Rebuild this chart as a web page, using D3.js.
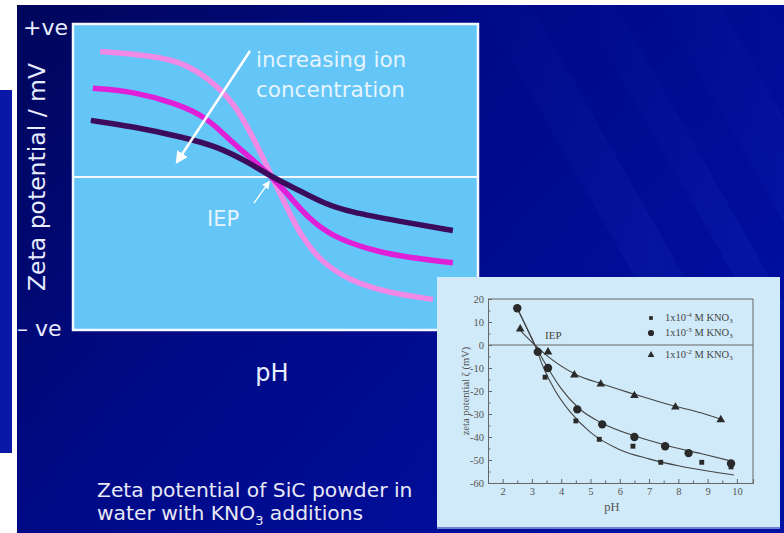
<!DOCTYPE html>
<html>
<head>
<meta charset="utf-8">
<script src="https://cdn.jsdelivr.net/npm/d3@7"></script>
<style>
body{margin:0;background:#fff;overflow:hidden;}
</style>
</head>
<body>
<div id="chart"></div>
<script>
// schematic curves, notional pH (0-10) vs zeta (-100..+100, +ve / -ve)
const lowConcX=[0.67,2.57,3.31,3.95,4.49,4.91,5.36,5.6,6.1,6.84,7.83,8.89];
const lowConcY=[82,78,65,50,24,0,-24,-37,-55,-68,-76,-80];
const midConcX=[0.49,1.48,2.57,3.31,3.95,4.54,4.91,5.36,5.85,6.42,7.26,8.07,9.38];
const midConcY=[58,56,48,39,22,9,0,-13,-28,-39,-47,-52,-56];
const highConcX=[0.44,1.48,2.72,3.56,4.37,4.91,5.6,6.17,6.84,8.07,9.38];
const highConcY=[37,33,26,20,9,0,-9,-17,-23,-29,-35];

// inset: measured zeta potential of SiC in KNO3
const legendLabels=["1x10","1x10","1x10"];
const legendExp=["-4","-3","-2"];
const sqPH=[3.45,4.5,5.3,6.45,7.4,8.8,9.8];
const sqZeta=[-14,-33,-41,-44,-51,-51,-53];
const circPH=[2.5,3.2,3.55,4.55,5.4,6.5,7.55,8.35,9.8];
const circZeta=[16,-3,-10,-28,-34.5,-40,-44,-47,-51.5];
const triPH=[2.6,3.55,4.45,5.35,6.5,7.9,9.45];
const triZeta=[7,-3,-13,-17,-22,-27,-32.5];
const fitSqPH=[2.5,2.8,3.1,3.4,3.8,4.3,5,6,7,8,9,9.9];
const fitSqZeta=[16,8,0,-10,-20,-29,-38,-45.5,-49.5,-52.5,-54.8,-56.5];
const fitCircPH=[2.5,2.8,3.1,3.5,4,4.6,5.4,6.5,7.7,8.8,9.85];
const fitCircZeta=[16,8,0,-9,-19,-27.5,-34,-39.5,-44,-47.3,-50.6];
const fitTriPH=[2.55,3.1,3.5,4.5,5.4,6.5,7.7,8.8,9.5];
const fitTriZeta=[7,0,-4.5,-12.8,-17,-21.4,-26,-29.6,-32.5];
const insetXTicks=[2,3,4,5,6,7,8,9,10];
const insetYTicks=[20,10,0,-10,-20,-30,-40,-50,-60];

const width=784,height=533;
const svg=d3.select("#chart").append("svg")
    .attr("width",width)
    .attr("height",height);

const defs=svg.append("defs");
const bg=defs.append("linearGradient").attr("id","bg")
    .attr("x1","0").attr("y1","0").attr("x2","1").attr("y2","0.6");
bg.append("stop").attr("offset","0").attr("stop-color","#00065a");
bg.append("stop").attr("offset","0.45").attr("stop-color","#000a86");
bg.append("stop").attr("offset","1").attr("stop-color","#000fa0");

const streak=defs.append("linearGradient").attr("id","streak")
    .attr("x1","0").attr("y1","0").attr("x2","1").attr("y2","0");
streak.append("stop").attr("offset","0").attr("stop-color","#2a40d0").attr("stop-opacity",0);
streak.append("stop").attr("offset","0.5").attr("stop-color","#2a40d0").attr("stop-opacity",0.13);
streak.append("stop").attr("offset","1").attr("stop-color","#2a40d0").attr("stop-opacity",0);

defs.selectAll("marker")
    .data(["big","small"])
    .enter().append("marker")
    .attr("id",d=>d)
    .attr("viewBox","0 -5 10 10")
    .attr("refX",8)
    .attr("refY",0)
    .attr("markerWidth",d=>d=="big"?5:6)
    .attr("markerHeight",d=>d=="big"?5:6)
    .attr("markerUnits","strokeWidth")
    .attr("orient","auto")
    .append("path")
    .attr("d","M0,-5L10,0L0,5Z")
    .attr("fill","#fff");

// slide background
svg.append("rect").attr("x",17).attr("y",5).attr("width",width-17).attr("height",height-5).attr("fill","url(#bg)");
const streaks=svg.append("g");
[[480,0,50],[580,0,35],[660,0,60],[740,0,25]].forEach(s=>{
    streaks.append("polygon")
        .attr("points",`${s[0]},5 ${s[0]+s[2]},5 ${s[0]+s[2]+300},533 ${s[0]+300},533`)
        .attr("fill","url(#streak)");
});
svg.append("rect").attr("x",0).attr("y",90).attr("width",12).attr("height",363).attr("fill","#0a18a8");

// schematic chart
const x=d3.scaleLinear().domain([0,10]).range([73,478]);
const y=d3.scaleLinear().domain([-100,100]).range([330,24]);

svg.append("rect")
    .attr("x",x(0)).attr("y",y(100))
    .attr("width",x(10)-x(0)).attr("height",y(-100)-y(100))
    .attr("fill","#63c6f7")
    .attr("stroke","#f4f8ff")
    .attr("stroke-width",2.5);

svg.append("line")
    .attr("x1",x(0)).attr("x2",x(10))
    .attr("y1",y(0)).attr("y2",y(0))
    .attr("stroke","#f4f8ff").attr("stroke-width",2);

const schemeLine=d3.line().x(d=>x(d[0])).y(d=>y(d[1])).curve(d3.curveBasis);
const curves=[
    {xs:lowConcX,ys:lowConcY,color:"#f08ae6"},
    {xs:midConcX,ys:midConcY,color:"#e01fd8"},
    {xs:highConcX,ys:highConcY,color:"#3c0c5c"}
];
svg.append("g").selectAll("path")
    .data(curves)
    .join("path")
    .attr("d",d=>schemeLine(d.xs.map((v,i)=>[v,d.ys[i]])))
    .attr("fill","none")
    .attr("stroke",d=>d.color)
    .attr("stroke-width",5.5)
    .attr("stroke-linecap","butt");

// arrows
svg.append("line")
    .attr("x1",250).attr("y1",51).attr("x2",177).attr("y2",162)
    .attr("stroke","#fff").attr("stroke-width",2.5)
    .attr("marker-end","url(#big)");
svg.append("line")
    .attr("x1",254).attr("y1",203).attr("x2",269).attr("y2",182)
    .attr("stroke","#fff").attr("stroke-width",1.3)
    .attr("marker-end","url(#small)");

const sans="'DejaVu Sans', Verdana, sans-serif";
svg.append("text").attr("x",256).attr("y",67)
    .attr("font-family",sans).attr("font-size",21.5).attr("fill","#e6f4ff")
    .text("increasing ion");
svg.append("text").attr("x",256).attr("y",97)
    .attr("font-family",sans).attr("font-size",21.5).attr("fill","#e6f4ff")
    .text("concentration");
svg.append("text").attr("x",207).attr("y",226)
    .attr("font-family",sans).attr("font-size",21).attr("fill","#e6f4ff")
    .text("IEP");

svg.append("text").attr("x",23).attr("y",35)
    .attr("font-family",sans).attr("font-size",22).attr("fill","#e8ecff")
    .text("+ve");
svg.append("text").attr("x",17).attr("y",336)
    .attr("font-family",sans).attr("font-size",22).attr("fill","#e8ecff")
    .text("\u2013 ve");
svg.append("text")
    .attr("transform","translate(45,177) rotate(-90)")
    .attr("text-anchor","middle")
    .attr("font-family",sans).attr("font-size",23.5).attr("fill","#e8ecff")
    .text("Zeta potential / mV");
svg.append("text").attr("x",272).attr("y",381)
    .attr("text-anchor","middle")
    .attr("font-family",sans).attr("font-size",24).attr("fill","#e8ecff")
    .text("pH");

const cap=svg.append("g").attr("font-family",sans).attr("font-size",20.3).attr("fill","#e8e8f6");
cap.append("text").attr("x",97).attr("y",497).text("Zeta potential of SiC powder in");
const cap2=cap.append("text").attr("x",97).attr("y",520);
cap2.append("tspan").text("water with KNO");
cap2.append("tspan").attr("font-size",13).attr("dy",5).text("3");
cap2.append("tspan").attr("dy",-5).text(" additions");

// inset chart
svg.append("rect").attr("x",437).attr("y",277).attr("width",343).attr("height",252)
    .attr("fill","#d0eaf9");
svg.append("line").attr("x1",437).attr("x2",780).attr("y1",528).attr("y2",528)
    .attr("stroke","#6f7ed8").attr("stroke-width",2);

const ix=d3.scaleLinear().domain([1.5,10.55]).range([488,753]);
const iy=d3.scaleLinear().domain([-60,20]).range([483,299]);
const serif="'Liberation Serif', 'Times New Roman', serif";
const axisColor="#666";
const fmt=d=>String(d);

const gx=svg.append("g").attr("transform",`translate(0,${iy(-60)})`)
    .call(d3.axisBottom(ix).tickValues(insetXTicks).tickSize(-4).tickPadding(5).tickFormat(fmt));
const gxm=svg.append("g").attr("transform",`translate(0,${iy(-60)})`)
    .call(d3.axisBottom(ix).tickValues(insetXTicks.map(v=>v-0.5)).tickSize(-2.5).tickFormat(""));
const gy=svg.append("g").attr("transform",`translate(${ix(1.5)},0)`)
    .call(d3.axisLeft(iy).tickValues(insetYTicks).tickSize(-4).tickPadding(4).tickFormat(fmt));
const gym=svg.append("g").attr("transform",`translate(${ix(1.5)},0)`)
    .call(d3.axisLeft(iy).tickValues(insetYTicks.slice(1).map(v=>v+5)).tickSize(-2.5).tickFormat(""));
[gx,gxm,gy,gym].forEach(g=>{
    g.select(".domain").attr("stroke",axisColor);
    g.selectAll("line").attr("stroke",axisColor);
    g.selectAll("text").attr("font-family",serif).attr("font-size",10.5).attr("fill","#555");
});
svg.append("line").attr("x1",ix(1.5)).attr("x2",ix(10.55)).attr("y1",iy(20)).attr("y2",iy(20)).attr("stroke",axisColor);
svg.append("line").attr("x1",ix(10.55)).attr("x2",ix(10.55)).attr("y1",iy(20)).attr("y2",iy(-60)).attr("stroke",axisColor);
svg.append("line").attr("x1",ix(1.5)).attr("x2",ix(10.55)).attr("y1",iy(0)).attr("y2",iy(0)).attr("stroke",axisColor);

svg.append("text").attr("x",612).attr("y",511).attr("text-anchor","middle")
    .attr("font-family",serif).attr("font-size",12.5).attr("fill","#555").text("pH");
svg.append("text").attr("transform","translate(469,391) rotate(-90)").attr("text-anchor","middle")
    .attr("font-family",serif).attr("font-size",10.5).attr("fill","#555").text("zeta potential  \u03b6 (mV)");
svg.append("text").attr("x",545).attr("y",339)
    .attr("font-family",serif).attr("font-size",11).attr("fill","#444").text("IEP");

const fitLine=d3.line().x(d=>ix(d[0])).y(d=>iy(d[1])).curve(d3.curveMonotoneX);
const fits=[[fitSqPH,fitSqZeta],[fitCircPH,fitCircZeta],[fitTriPH,fitTriZeta]];
svg.append("g").selectAll("path")
    .data(fits)
    .join("path")
    .attr("d",d=>fitLine(d[0].map((v,i)=>[v,d[1][i]])))
    .attr("fill","none")
    .attr("stroke","#444")
    .attr("stroke-width",1.1);

const markColor="#2a2a2a";
const symbols=[d3.symbolSquare,d3.symbolCircle,d3.symbolTriangle];
const sizes=[24,55,32];
const series=[[sqPH,sqZeta],[circPH,circZeta],[triPH,triZeta]];
series.forEach((s,k)=>{
    svg.append("g").selectAll("path")
        .data(s[0].map((v,i)=>[v,s[1][i]]))
        .join("path")
        .attr("transform",d=>`translate(${ix(d[0])},${iy(d[1])})`)
        .attr("d",d3.symbol(symbols[k],sizes[k]))
        .attr("fill",markColor);
});

// legend
const legendY=[318,333,355];
const leg=svg.append("g");
legendLabels.forEach((lab,k)=>{
    leg.append("path")
        .attr("transform",`translate(651,${legendY[k]})`)
        .attr("d",d3.symbol(symbols[k],[14,30,20][k]))
        .attr("fill",markColor);
    const t=leg.append("text").attr("x",665).attr("y",legendY[k]+3)
        .attr("font-family",serif).attr("font-size",10.5).attr("fill","#444");
    t.append("tspan").text(lab);
    t.append("tspan").attr("font-size",7).attr("dy",-4).text(legendExp[k]);
    t.append("tspan").attr("dy",4).text(" M KNO");
    t.append("tspan").attr("font-size",7).attr("dy",2).text("3");
});
</script>
</body>
</html>
